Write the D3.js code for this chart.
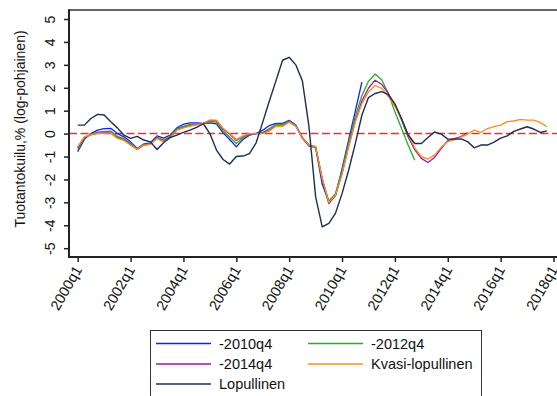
<!DOCTYPE html>
<html>
<head>
<meta charset="utf-8">
<script src="https://cdn.jsdelivr.net/npm/d3@7"></script>
<style>
    body { margin: 0; background: #fff; }
    #chart { width: 557px; height: 396px; }
    text { font-family: "Liberation Sans", Arial, sans-serif; fill: #111; }
</style>
</head>
<body>
<div id="chart"></div>
<script>

// quarters on the x axis (2000q1 .. 2018q1)
const quarters = [
    "2000q1","2000q2","2000q3","2000q4","2001q1","2001q2","2001q3","2001q4",
    "2002q1","2002q2","2002q3","2002q4","2003q1","2003q2","2003q3","2003q4",
    "2004q1","2004q2","2004q3","2004q4","2005q1","2005q2","2005q3","2005q4",
    "2006q1","2006q2","2006q3","2006q4","2007q1","2007q2","2007q3","2007q4",
    "2008q1","2008q2","2008q3","2008q4","2009q1","2009q2","2009q3","2009q4",
    "2010q1","2010q2","2010q3","2010q4","2011q1","2011q2","2011q3","2011q4",
    "2012q1","2012q2","2012q3","2012q4","2013q1","2013q2","2013q3","2013q4",
    "2014q1","2014q2","2014q3","2014q4","2015q1","2015q2","2015q3","2015q4",
    "2016q1","2016q2","2016q3","2016q4","2017q1","2017q2","2017q3","2017q4",
    "2018q1"
];

const xTicks = ["2000q1","2002q1","2004q1","2006q1","2008q1","2010q1","2012q1","2014q1","2016q1","2018q1"];
const yTicks = [-5, -4, -3, -2, -1, 0, 1, 2, 3, 4, 5];

// vintages, all starting 2000q1
const vintage2010q4 = [
    -0.79, -0.25, 0.00, 0.15, 0.22, 0.23, 0.00, -0.14,
    -0.36, -0.65, -0.45, -0.40, -0.10, -0.20, -0.06, 0.25,
    0.41, 0.47, 0.47, 0.45, 0.47, 0.42, 0.03, -0.26,
    -0.58, -0.25, -0.07, 0.00, 0.15, 0.35, 0.45, 0.45,
    0.58, 0.37, -0.20, -0.55, -0.60, -2.20, -2.98, -2.70,
    -1.54, -0.28, 0.97, 2.25
];

const vintage2012q4 = [
    -0.70, -0.20, -0.03, 0.06, 0.10, 0.11, -0.12, -0.22,
    -0.43, -0.67, -0.48, -0.44, -0.15, -0.28, -0.11, 0.20,
    0.33, 0.40, 0.42, 0.45, 0.53, 0.50, 0.12, -0.15,
    -0.43, -0.18, -0.03, 0.00, 0.05, 0.22, 0.40, 0.40,
    0.55, 0.36, -0.18, -0.50, -0.57, -2.00, -2.95, -2.62,
    -1.62, -0.40, 0.75, 1.65, 2.28, 2.60, 2.35, 1.75,
    0.95, 0.23, -0.50, -1.16
];

const vintage2014q4 = [
    -0.62, -0.16, -0.05, 0.02, 0.03, 0.04, -0.18, -0.27,
    -0.48, -0.69, -0.50, -0.46, -0.19, -0.34, -0.15, 0.17,
    0.27, 0.35, 0.39, 0.45, 0.58, 0.57, 0.20, -0.02,
    -0.30, -0.12, -0.01, 0.00, 0.02, 0.15, 0.34, 0.34,
    0.52, 0.33, -0.18, -0.51, -0.58, -1.97, -3.05, -2.70,
    -1.75, -0.55, 0.55, 1.42, 1.98, 2.33, 2.15, 1.75,
    1.25, 0.60, -0.15, -0.70, -1.08, -1.26, -1.04, -0.65,
    -0.31, -0.22, -0.13, 0.03
];

const kvasiLopullinen = [
    -0.58, -0.14, -0.04, 0.01, 0.01, 0.03, -0.21, -0.30,
    -0.50, -0.69, -0.50, -0.47, -0.21, -0.36, -0.17, 0.15,
    0.25, 0.33, 0.38, 0.45, 0.59, 0.59, 0.23, 0.00,
    -0.26, -0.10, 0.00, 0.00, 0.00, 0.12, 0.32, 0.32,
    0.50, 0.32, -0.17, -0.50, -0.58, -1.95, -3.00, -2.69,
    -1.76, -0.58, 0.50, 1.30, 1.82, 2.10, 1.97, 1.62,
    1.20, 0.66, -0.05, -0.62, -1.00, -1.11, -0.94, -0.60,
    -0.35, -0.27, -0.15, -0.02, 0.15, 0.05, 0.22, 0.30,
    0.37, 0.52, 0.55, 0.62, 0.59, 0.59, 0.49, 0.30
];

const lopullinen = [
    0.37, 0.37, 0.66, 0.84, 0.81, 0.52, 0.25, -0.07,
    -0.21, -0.12, -0.28, -0.36, -0.69, -0.40, -0.17, -0.07,
    0.05, 0.15, 0.27, 0.43, 0.00, -0.72, -1.13, -1.33,
    -1.00, -0.98, -0.87, -0.40, 0.50, 1.42, 2.30, 3.20,
    3.33, 3.00, 2.30, 0.30, -2.75, -4.07, -3.92, -3.48,
    -2.62, -1.60, -0.45, 0.80, 1.57, 1.75, 1.83, 1.70,
    1.30, 0.66, -0.05, -0.43, -0.43, -0.17, 0.07, -0.02,
    -0.24, -0.24, -0.23, -0.35, -0.62, -0.50, -0.50, -0.37,
    -0.20, -0.10, 0.10, 0.20, 0.30, 0.20, 0.05, 0.12
];

const seriesNames = ["-2010q4", "-2012q4", "-2014q4", "Kvasi-lopullinen", "Lopullinen"];
const seriesValues = [vintage2010q4, vintage2012q4, vintage2014q4, kvasiLopullinen, lopullinen];
const seriesColors = ["#1a1aff", "#22b022", "#a0199d", "#ff8c1e", "#1c2d52"];


class LineChart {
    constructor(parentElement, series) {
        this.parentElement = parentElement;
        this.series = series;
    }

    initVis() {
        let vis = this;

        // plot region (pixel box of the frame)
        vis.plot = {left: 69, top: 10, bottom: 257, right: 560};

        vis.svg = d3.select("#" + vis.parentElement).append("svg")
            .attr("width", 557)
            .attr("height", 396);

        // scales
        vis.x = d3.scalePoint()
            .domain(quarters)
            .range([77.7, 553.5]);

        vis.y = d3.scaleLinear()
            .domain([-5, 5])
            .range([248.2, 19]);

        // frame top edge
        vis.svg.append("line")
            .attr("x1", vis.plot.left).attr("x2", vis.plot.right)
            .attr("y1", vis.plot.top).attr("y2", vis.plot.top)
            .attr("stroke", "#333").attr("stroke-width", 1.6);

        // zero line
        vis.svg.append("line")
            .attr("x1", vis.plot.left).attr("x2", vis.plot.right)
            .attr("y1", vis.y(0)).attr("y2", vis.y(0))
            .attr("stroke", "#ff2b2b")
            .attr("stroke-width", 1.5)
            .attr("stroke-dasharray", "8,3.5");

        // axes
        vis.yAxis = d3.axisLeft(vis.y)
            .tickValues(yTicks)
            .tickSize(5)
            .tickFormat(d => d);

        vis.xAxis = d3.axisBottom(vis.x)
            .tickValues(xTicks)
            .tickSize(5);

        let yg = vis.svg.append("g")
            .attr("class", "y-axis")
            .attr("transform", `translate(${vis.plot.left},0)`)
            .call(vis.yAxis);

        yg.select(".domain").remove();
        yg.selectAll("line").attr("stroke", "#222").attr("stroke-width", 1.5);
        yg.selectAll("text")
            .attr("x", null)
            .attr("dy", null)
            .attr("text-anchor", "middle")
            .attr("transform", "translate(-14,0) rotate(-90)")
            .style("font-size", "14px")
            .style("font-family", "'Liberation Sans', Arial, sans-serif")
            .attr("fill", "#111");

        let xg = vis.svg.append("g")
            .attr("class", "x-axis")
            .attr("transform", `translate(0,${vis.plot.bottom})`)
            .call(vis.xAxis);

        xg.select(".domain").remove();
        xg.selectAll("line").attr("stroke", "#222").attr("stroke-width", 1.5);
        xg.selectAll("text")
            .attr("y", null)
            .attr("dy", "0.35em")
            .attr("text-anchor", "end")
            .attr("transform", "translate(0,10) rotate(-60)")
            .style("font-size", "14.5px")
            .style("font-family", "'Liberation Sans', Arial, sans-serif")
            .attr("fill", "#111");

        // axis lines
        vis.svg.append("line")
            .attr("x1", vis.plot.left).attr("x2", vis.plot.left)
            .attr("y1", vis.plot.top - 0.8).attr("y2", vis.plot.bottom + 1)
            .attr("stroke", "#222").attr("stroke-width", 2);

        vis.svg.append("line")
            .attr("x1", vis.plot.left - 1).attr("x2", vis.plot.right)
            .attr("y1", vis.plot.bottom).attr("y2", vis.plot.bottom)
            .attr("stroke", "#222").attr("stroke-width", 2);

        // y title
        vis.svg.append("text")
            .attr("transform", "translate(25,129) rotate(-90)")
            .attr("text-anchor", "middle")
            .style("font-size", "14px")
            .text("Tuotantokuilu,% (log-pohjainen)");

        vis.updateVis();
        vis.drawLegend();
    }

    updateVis() {
        let vis = this;

        let line = d3.line()
            .x((d, i) => vis.x(quarters[i]))
            .y(d => vis.y(d));

        vis.svg.selectAll(".series")
            .data(vis.series)
            .enter().append("path")
            .attr("class", "series")
            .attr("fill", "none")
            .attr("stroke", d => d.color)
            .attr("stroke-width", d => d.name === "Lopullinen" ? 1.4 : 1.3)
            .attr("stroke-linejoin", "round")
            .attr("d", d => line(d.values));
    }

    drawLegend() {
        let vis = this;

        let legend = vis.svg.append("g").attr("class", "legend");

        legend.append("rect")
            .attr("x", 150.5).attr("y", 330.5)
            .attr("width", 331).attr("height", 70)
            .attr("fill", "#fff")
            .attr("stroke", "#333")
            .attr("stroke-width", 1);

        const colX = [156, 308];
        const rowY = [343.5, 364, 384];

        let items = legend.selectAll(".legend-item")
            .data(vis.series)
            .enter().append("g")
            .attr("class", "legend-item")
            .attr("transform", (d, i) => `translate(${colX[i % 2]},${rowY[Math.floor(i / 2)]})`);

        items.append("line")
            .attr("x1", 0).attr("x2", 55)
            .attr("stroke", d => d.color)
            .attr("stroke-width", 1.4);

        items.append("text")
            .attr("x", 63)
            .attr("dy", "0.36em")
            .style("font-size", "14.5px")
            .text(d => d.name);
    }
}

let series = seriesNames.map((name, i) => ({name: name, values: seriesValues[i], color: seriesColors[i]}));
let chart = new LineChart("chart", series);
chart.initVis();

</script>
</body>
</html>
